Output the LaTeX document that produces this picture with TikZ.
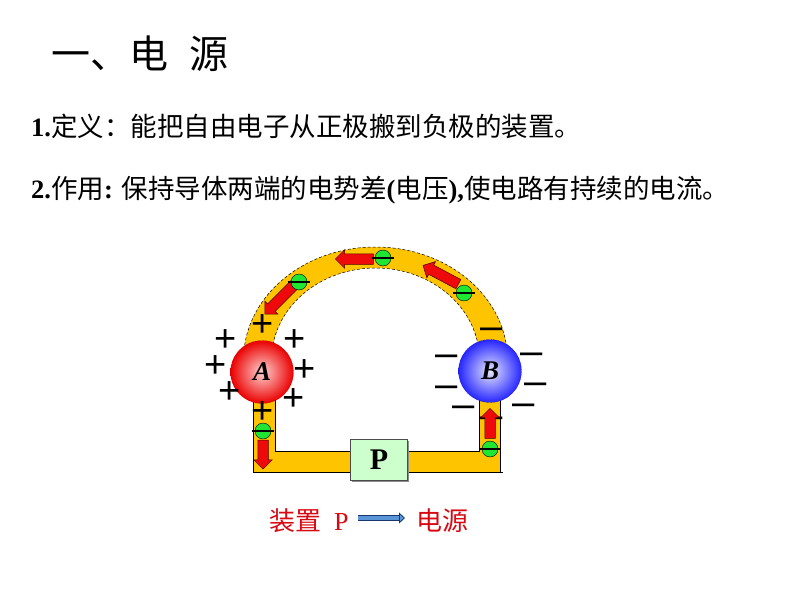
\documentclass[tikz,border=0pt]{standalone}
\usepackage{fontspec}
\setmainfont{Liberation Serif}
\newfontfamily\cjk{Noto Sans CJK SC}
\newfontfamily\signfont{Liberation Sans}
\usetikzlibrary{arrows.meta,shapes.arrows,shadings}
\definecolor{wirefill}{RGB}{255,196,0}
\definecolor{boxfill}{RGB}{204,255,204}
\definecolor{elecgreen}{RGB}{30,230,50}
\definecolor{arrowred}{RGB}{238,10,10}
\definecolor{labelred}{RGB}{215,10,20}
\definecolor{blockblue}{RGB}{90,150,215}
\definecolor{blocknavy}{RGB}{25,55,110}
\tikzset{
  plussign/.style={inner sep=0pt, font=\signfont\fontsize{38}{38}\selectfont},
  minussign/.style={inner sep=0pt, anchor=base, font=\signfont\fontsize{40}{40}\selectfont},
  electron/.style={circle, draw=black, fill=elecgreen, inner sep=0pt, minimum size=16pt},
  moveflow/.style={single arrow, draw=black!70!red, fill=arrowred, line width=0.5pt, inner xsep=0pt, inner ysep=5pt,
    single arrow head extend=4pt, single arrow head indent=0pt},
  ball/.style={circle, draw=#1!60!black, densely dotted, minimum size=63pt, inner sep=0pt,
    font=\bfseries\itshape\fontsize{27}{27}\selectfont},
  bodytext/.style={anchor=west, inner sep=0pt, font=\fontsize{26.5}{30}\selectfont},
}
\begin{document}
\begin{tikzpicture}[x=1pt, y=-1pt]
  \useasboundingbox (0,0) rectangle (794,596);
  \fill[white] (0,0) rectangle (794,596);
  % texts
  \node[anchor=west, inner sep=0pt, font=\cjk\fontsize{39}{44}\selectfont] (title) at (51,54) {一、电\hspace{0.55em}源};
  \node[bodytext] (defline) at (31,126) {\textbf{1.}{\cjk 定义：能把自由电子从正极搬到负极的装置。}};
  \node[bodytext] (useline) at (31,190) {\textbf{2.}{\cjk 作用}\textbf{:} {\cjk 保持导体两端的电势差}\textbf{(}{\cjk 电压}\textbf{),}{\cjk 使电路有持续的电流。}};
  % wire
  \fill[wirefill] (253,400) -- (253,472) -- (500,472) -- (500,400) -- (479,400) -- (479,451) -- (275,451) -- (275,400) -- cycle;
  \draw (253,400) -- (253,472) -- (503,472);
  \draw (275,400) -- (275,451) -- (479,451) -- (479,400);
  \draw (500,400) -- (500,472);
  \coordinate (archmid) at (375.5,360);
  \coordinate (archouter) at ([shift={(185:132 and 113)}]archmid);
  \coordinate (archinner) at ([shift={(354:104 and 92)}]archmid);
  \fill[wirefill] (archouter) arc[start angle=185, end angle=355, x radius=132, y radius=113]
    -- (archinner) arc[start angle=354, end angle=186, x radius=104, y radius=92] -- cycle;
  \draw[densely dashed, line width=0.5pt] (archouter) arc[start angle=185, end angle=355, x radius=132, y radius=113];
  \draw[densely dashed, line width=0.5pt] (archinner) arc[start angle=354, end angle=186, x radius=104, y radius=92];
  % balls
  \node[ball=red, inner color=red!18!white, outer color=red!92!black] (ballA) at (262,372) {A};
  \node[ball=blue, inner color=blue!10!white, outer color=blue!85!white] (ballB) at (490,371) {B};
  % power box
  \fill[black!45] (352,441) rectangle (409,482);
  \node[draw=black!70, fill=boxfill, line width=0.6pt, minimum width=57pt, minimum height=41pt, inner sep=0pt,
    font=\bfseries\fontsize{30}{30}\selectfont] (boxP) at (379,460) {P};
  % charges
  \foreach \px/\py [count=\i] in {263/326,226/341,295/341,216/367,305/371,230/393,294/400,263/413}
    \node[plussign] (plus\i) at (\px,\py) {+};
  \foreach \mx/\my [count=\i] in {492/328,447/355,532/353,447/386,536/383,464/406,524/404,492/417}
    \node[minussign] (minus\i) at (\mx,\my+11) {–};
  % moving electrons
  \foreach \ex/\ey/\len/\ang [count=\i] in {281.5/297.5/42/-135,357/259/38/180,443/276/40/152,263/452/29/-90,490/426/30/90}
    \node[moveflow, minimum height=\len pt, rotate=\ang] (flow\i) at (\ex,\ey) {};
  \foreach \ex/\ey [count=\i] in {299/282,383/258,464/293,263/431,490/449} {
    \node[electron] (elec\i) at (\ex,\ey) {};
    \draw[line width=1.3pt] ([xshift=-2.5pt]elec\i.west) -- ([xshift=2.5pt]elec\i.east);
  }
  % bottom line
  \node[anchor=west, inner sep=0pt, text=labelred, font=\cjk\fontsize{26}{30}\selectfont] (devlabel) at (269,521) {装置\hspace{0.5em}{\rmfamily P}};
  \node[anchor=west, inner sep=0pt, text=labelred, font=\cjk\fontsize{26}{30}\selectfont] (srclabel) at (416,521) {电源};
  \draw[draw=blocknavy, double=blockblue, double distance=4pt, line width=0.8pt,
    -{Triangle[length=6pt, width=11pt, fill=blockblue]}, shorten <=9pt, shorten >=11pt] (devlabel.east|-0,518) -- (srclabel.west|-0,518);
\end{tikzpicture}
\end{document}
